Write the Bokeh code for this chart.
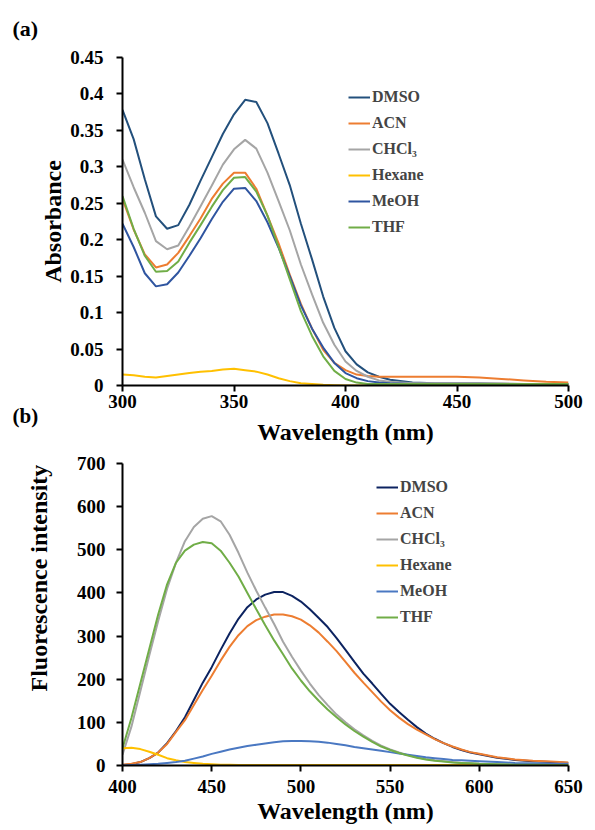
from bokeh.plotting import figure
from bokeh.layouts import column
from bokeh.models import Range1d, FixedTicker, Legend, LegendItem, Title
from bokeh.embed import file_html
from bokeh.resources import INLINE

# ---------------- data: panel (a) absorbance ----------------
wl_a = [300, 305, 310, 315, 320, 325, 330, 335, 340, 345, 350, 355, 360, 365, 370,
        375, 380, 385, 390, 395, 400, 405, 410, 415, 420,
        430, 440, 450, 460, 470, 480, 490, 500]
abs_dmso = [0.378, 0.338, 0.283, 0.232, 0.215, 0.220, 0.248, 0.281, 0.313, 0.345, 0.372, 0.392, 0.389, 0.360, 0.318,
            0.275, 0.222, 0.173, 0.122, 0.079, 0.047, 0.029, 0.018, 0.012, 0.008,
            0.004, 0.003, 0.003, 0.003, 0.002, 0.002, 0.002, 0.002]
abs_acn = [0.256, 0.214, 0.180, 0.162, 0.166, 0.182, 0.205, 0.229, 0.256, 0.277, 0.292, 0.292, 0.270, 0.233, 0.195,
           0.152, 0.112, 0.078, 0.049, 0.031, 0.021, 0.015, 0.013, 0.012, 0.012,
           0.012, 0.012, 0.012, 0.011, 0.009, 0.007, 0.005, 0.004]
abs_chcl3 = [0.310, 0.272, 0.237, 0.198, 0.187, 0.192, 0.218, 0.246, 0.274, 0.303, 0.324, 0.337, 0.325, 0.292, 0.253,
             0.213, 0.166, 0.125, 0.086, 0.056, 0.033, 0.020, 0.012, 0.007, 0.005,
             0.003, 0.003, 0.003, 0.003, 0.003, 0.002, 0.002, 0.002]
abs_hexane = [0.015, 0.014, 0.012, 0.011, 0.013, 0.015, 0.017, 0.019, 0.020, 0.022, 0.023, 0.021, 0.019, 0.015, 0.010,
              0.006, 0.003, 0.002, 0.001, 0.0005, 0.0, 0.0, 0.0, 0.0, 0.0,
              0.0, 0.0, 0.0, 0.0, 0.0, 0.0, 0.0, 0.0]
abs_meoh = [0.222, 0.190, 0.154, 0.136, 0.139, 0.155, 0.178, 0.202, 0.228, 0.252, 0.270, 0.271, 0.253, 0.224, 0.189,
            0.150, 0.110, 0.078, 0.052, 0.031, 0.017, 0.010, 0.006, 0.004, 0.003,
            0.002, 0.002, 0.002, 0.002, 0.002, 0.002, 0.002, 0.002]
abs_thf = [0.260, 0.215, 0.178, 0.156, 0.157, 0.170, 0.196, 0.220, 0.245, 0.268, 0.285, 0.286, 0.266, 0.233, 0.190,
           0.146, 0.102, 0.068, 0.040, 0.020, 0.009, 0.004, 0.002, 0.002, 0.002,
           0.002, 0.002, 0.002, 0.002, 0.002, 0.002, 0.002, 0.002]

# ---------------- data: panel (b) fluorescence ----------------
wl_b = [400, 405, 410, 415, 420, 425, 430, 435, 440, 445, 450, 455, 460, 465, 470, 475, 480, 485, 490, 495,
        500, 505, 510, 515, 520, 525, 530, 535, 540, 545, 550, 555, 560, 565, 570, 575, 580, 585, 590, 595,
        600, 610, 620, 630, 640, 650]
fl_dmso = [1, 3, 8, 17, 30, 52, 80, 112, 152, 192, 228, 268, 306, 340, 367, 385, 396, 402, 402, 393,
           380, 362, 342, 321, 295, 268, 240, 213, 190, 166, 143, 124, 106, 89, 74, 62, 52, 43, 36, 30,
           26, 18, 13, 10, 8, 6]
fl_acn = [2, 4, 8, 17, 30, 50, 78, 105, 140, 175, 208, 243, 275, 302, 323, 337, 345, 350, 350, 346,
          338, 325, 308, 287, 265, 240, 215, 192, 170, 148, 128, 111, 96, 83, 72, 61, 52, 44, 37, 31,
          27, 19, 14, 11, 9, 7]
fl_chcl3 = [25, 90, 172, 255, 335, 410, 470, 520, 553, 572, 578, 566, 535, 493, 447, 405, 366, 328, 287, 252,
            220, 190, 163, 140, 118, 100, 84, 70, 57, 46, 37, 30, 24, 19, 15, 12, 10, 8, 6, 5,
            4, 3, 2, 2, 1, 1]
fl_hexane = [40, 41, 38, 32, 25, 17, 12, 8, 6, 4, 3, 2, 2, 1, 1, 1, 1, 1, 1, 1,
             1, 1, 1, 1, 1, 1, 1, 1, 1, 1, 1, 1, 1, 1, 1, 1, 1, 1, 1, 1,
             1, 1, 1, 1, 1, 1]
fl_meoh = [0, 1, 2, 3, 4, 6, 8, 11, 16, 21, 27, 32, 37, 41, 45, 48, 51, 54, 56, 57,
           57, 56, 55, 53, 50, 47, 43, 40, 37, 34, 31, 28, 25, 22, 19, 17, 15, 13, 12, 11,
           10, 8, 6, 5, 4, 4]
fl_thf = [40, 110, 190, 270, 350, 420, 470, 498, 512, 518, 515, 498, 470, 438, 400, 362, 325, 290, 258, 225,
          197, 172, 150, 130, 112, 95, 80, 67, 55, 44, 36, 29, 23, 18, 14, 11, 9, 7, 6, 5,
          4, 3, 2, 2, 1, 1]

solvents = ["DMSO", "ACN", "CHCl\u2083", "Hexane", "MeOH", "THF"]
colors_a = ["#23507c", "#ed7d31", "#a5a5a5", "#ffc000", "#2f55a0", "#70ad47"]
colors_b = ["#0c2360", "#ed7d31", "#a5a5a5", "#ffc000", "#4a78c2", "#70ad47"]

ticks_a_x = [300, 350, 400, 450, 500]
ticks_a_y = [0, 0.05, 0.1, 0.15, 0.2, 0.25, 0.3, 0.35, 0.4, 0.45]
ticklabels_a_y = ["0", "0.05", "0.1", "0.15", "0.2", "0.25", "0.3", "0.35", "0.4", "0.45"]
ticks_b_x = [400, 450, 500, 550, 600, 650]
ticks_b_y = [0, 100, 200, 300, 400, 500, 600, 700]

FONT = "Liberation Serif"


def style_axes(p, xt, yt, ylabels=None, xstand=2, ystand=13):
    for ax in (p.xaxis[0], p.yaxis[0]):
        ax.axis_line_width = 2
        ax.axis_line_color = "black"
        ax.major_tick_line_width = 2
        ax.major_tick_line_color = "black"
        ax.major_tick_out = 6
        ax.major_tick_in = 0
        ax.minor_tick_line_color = None
        ax.major_label_text_font = FONT
        ax.major_label_text_font_style = "bold"
        ax.major_label_text_font_size = "19px"
        ax.major_label_text_color = "black"
        ax.axis_label_text_font = FONT
        ax.axis_label_text_font_style = "bold"
        ax.axis_label_text_font_size = "24px"
        ax.axis_label_text_color = "black"
    p.xaxis[0].ticker = FixedTicker(ticks=xt)
    p.yaxis[0].ticker = FixedTicker(ticks=yt)
    p.xaxis[0].major_label_standoff = xstand
    p.yaxis[0].major_label_standoff = ystand
    if ylabels is not None:
        p.yaxis[0].major_label_overrides = {t: l for t, l in zip(yt, ylabels)}
    p.xgrid.grid_line_color = None
    p.ygrid.grid_line_color = None
    p.outline_line_color = None


def style_title(t, text, size, align, offset=0, standoff=0, valign="bottom"):
    t.text = text
    t.align = align
    t.vertical_align = valign
    t.offset = offset
    t.standoff = standoff
    t.text_font = FONT
    t.text_font_style = "bold"
    t.text_font_size = size
    t.text_color = "black"


def add_legend(p, renderers, loc):
    items = [LegendItem(label=n, renderers=[r]) for n, r in zip(solvents, renderers)]
    leg = Legend(items=items, location=loc, border_line_color=None, background_fill_alpha=0,
                 padding=0, margin=0, spacing=6, glyph_width=22, glyph_height=20,
                 label_height=20, label_standoff=2, label_text_font=FONT,
                 label_text_font_style="bold", label_text_font_size="16px")
    p.add_layout(leg)


# ---------------- panel (a) ----------------
pa = figure(width=595, height=451, output_backend="svg", toolbar_location=None,
            x_range=Range1d(300, 500), y_range=Range1d(0, 0.45),
            min_border_left=122, min_border_right=27, min_border_top=57, min_border_bottom=66)
series_a = [abs_dmso, abs_acn, abs_chcl3, abs_hexane, abs_meoh, abs_thf]
rend_a = [pa.line(wl_a, s, line_color=c, line_width=2) for s, c in zip(series_a, colors_a)]
style_axes(pa, ticks_a_x, ticks_a_y, ticklabels_a_y, xstand=3, ystand=13)
pa.yaxis[0].axis_label = "Absorbance"
pa.yaxis[0].axis_label_standoff = 1
pa.xaxis[0].axis_label = "Wavelength (nm)"
pa.xaxis[0].axis_label_standoff = 8
add_legend(pa, rend_a, (226, 148))
style_title(pa.title, "(a)", "22px", "left", offset=-110, standoff=30, valign="top")
# panel label (b), pulled up beside the x-axis title row
tb = Title()
style_title(tb, "(b)", "21px", "left", offset=-110, standoff=-88, valign="top")
pa.add_layout(tb, "below")

# ---------------- panel (b) ----------------
pb = figure(width=595, height=379, output_backend="svg", toolbar_location=None,
            x_range=Range1d(400, 650), y_range=Range1d(0, 700),
            min_border_left=120, min_border_right=15, min_border_top=12, min_border_bottom=65)
series_b = [fl_dmso, fl_acn, fl_chcl3, fl_hexane, fl_meoh, fl_thf]
rend_b = [pb.line(wl_b, s, line_color=c, line_width=2) for s, c in zip(series_b, colors_b)]
style_axes(pb, ticks_b_x, ticks_b_y, None, xstand=8, ystand=11)
pb.xaxis[0].axis_label = "Wavelength (nm)"
pb.xaxis[0].axis_label_standoff = 2
add_legend(pb, rend_b, (254, 138))
pb.title.text = ""
ty = Title()
style_title(ty, "Fluorescence intensity", "24px", "left", offset=74, standoff=44)
pb.add_layout(ty, "left")

layout = column(pa, pb, spacing=0)
open("out.html", "w").write(file_html(layout, INLINE))
